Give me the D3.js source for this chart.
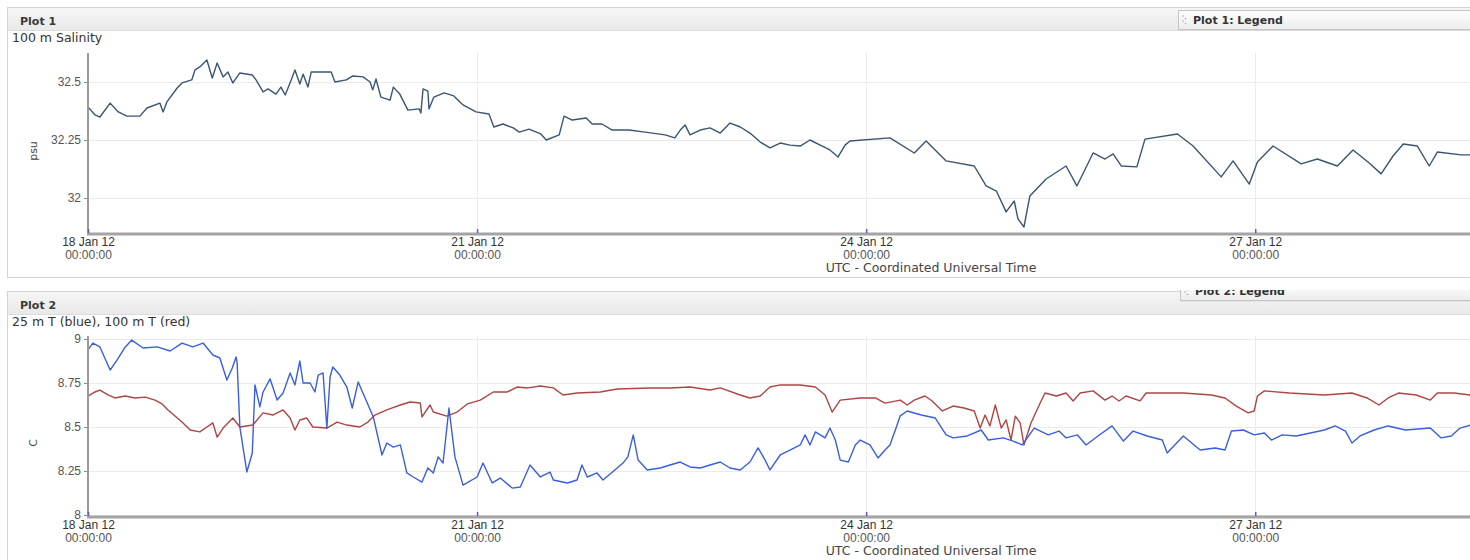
<!DOCTYPE html>
<html>
<head>
<meta charset="utf-8">
<script src="https://cdn.jsdelivr.net/npm/d3@7/dist/d3.min.js"></script>
<style>
  body { margin: 0; background: #fff; }
  svg { display: block; font-family: "DejaVu Sans", Verdana, sans-serif; }
</style>
</head>
<body>
<div id="chart"></div>
<script>
// hours since 18 Jan 2012 00:00 UTC
const salinityHours = [0,1.3,2.2,4.1,5.6,7.2,9.6,10.9,13.3,13.9,14.6,16.5,17.4,19.2,19.8,20.7,22.0,23.0,23.9,25.0,25.9,26.8,28.1,30.4,31.1,32.4,33.3,34.8,35.7,36.5,37.6,38.3,39.2,39.8,40.7,41.3,45.0,45.7,47.8,49.0,50.9,52.2,52.7,53.3,54.2,55.9,56.5,57.7,59.2,61.3,61.6,62.0,62.9,63.1,64.0,65.9,67.7,69.4,71.8,74.2,75.1,76.8,78.7,79.8,81.6,83.8,84.8,87.2,88.1,89.6,92.2,93.3,95.1,97.0,100.1,103.1,106.8,108.6,109.6,110.5,111.4,113.3,115.1,117.0,118.8,120.7,122.5,124.4,126.2,128.1,129.9,131.8,133.6,135.5,137.3,138.8,140.1,141.0,148.4,152.9,155.1,158.8,164.0,166.2,168.1,169.9,171.4,172.1,173.2,174.3,177.3,181.0,183.0,186.0,188.2,189.7,191.2,194.1,195.6,201.6,204.5,209.7,211.9,214.9,216.4,219.3,224.5,227.5,231.2,234.1,237.1,239.3,241.5,243.4,246.0,248.2,249.7,254.1,256.9];
const salinityValues = [32.392,32.358,32.349,32.409,32.371,32.353,32.353,32.388,32.409,32.371,32.414,32.474,32.496,32.509,32.552,32.565,32.595,32.517,32.582,32.522,32.543,32.496,32.539,32.530,32.509,32.457,32.470,32.448,32.478,32.444,32.509,32.552,32.491,32.534,32.478,32.543,32.543,32.500,32.509,32.526,32.522,32.500,32.466,32.513,32.435,32.422,32.478,32.448,32.379,32.384,32.366,32.470,32.461,32.384,32.435,32.453,32.440,32.401,32.371,32.362,32.306,32.319,32.302,32.284,32.297,32.276,32.250,32.272,32.353,32.336,32.345,32.319,32.319,32.293,32.293,32.284,32.272,32.259,32.293,32.315,32.272,32.293,32.302,32.280,32.323,32.306,32.280,32.241,32.216,32.237,32.228,32.224,32.250,32.228,32.207,32.177,32.228,32.246,32.259,32.194,32.246,32.160,32.138,32.052,32.030,31.940,31.987,31.910,31.875,32.009,32.082,32.138,32.052,32.194,32.168,32.190,32.138,32.134,32.254,32.276,32.224,32.091,32.160,32.060,32.155,32.224,32.147,32.168,32.138,32.207,32.151,32.104,32.181,32.233,32.224,32.138,32.198,32.186,32.186];

const blueHours = [0,0.9,2.2,4.1,5.4,6.9,8.1,10.2,12.8,15.2,17.4,19.4,21.3,23.1,24.4,25.7,26.7,27.4,27.6,28.1,29.4,30.4,30.9,31.8,32.4,33.7,35.0,36.1,37.4,38.3,39.2,39.8,41.1,42.0,42.6,43.5,44.2,44.8,45.3,46.6,47.9,48.9,50.0,51.6,52.8,54.4,55.3,56.5,57.8,59.0,60.2,61.8,62.9,63.9,64.8,65.7,66.8,67.9,69.4,72.0,73.1,74.8,76.3,78.5,80.0,81.8,83.7,85.5,86.1,88.7,90.5,91.4,92.4,94.2,95.3,97.5,99.0,99.9,100.9,101.8,103.5,105.9,107.7,109.6,111.4,113.3,115.1,117.0,118.8,120.7,122.5,124.0,125.3,126.2,128.1,129.9,131.8,132.7,133.6,134.6,136.4,137.3,138.3,139.2,140.7,142.0,142.9,144.7,146.2,147.5,148.4,149.4,150.3,151.6,154.2,156.8,158.8,160.1,162.7,165.3,166.6,169.4,171.2,172.9,175.1,177.7,179.7,181.0,183.1,184.7,186.9,189.5,191.6,193.4,196.0,198.8,199.7,202.7,205.8,208.6,210.4,211.6,213.8,215.8,217.7,219.0,221.0,223.6,226.2,228.8,230.8,232.7,233.9,235.4,238.0,240.6,243.8,248.4,250.4,252.3,253.9,255.8];
const blueValues = [8.938,8.977,8.955,8.824,8.881,8.955,8.994,8.949,8.955,8.932,8.977,8.955,8.977,8.909,8.892,8.767,8.835,8.898,8.864,8.500,8.244,8.352,8.739,8.614,8.699,8.773,8.653,8.693,8.807,8.739,8.875,8.750,8.750,8.699,8.795,8.807,8.494,8.784,8.841,8.795,8.727,8.608,8.756,8.642,8.557,8.341,8.409,8.386,8.398,8.239,8.216,8.187,8.267,8.239,8.330,8.295,8.608,8.330,8.170,8.216,8.295,8.182,8.210,8.153,8.159,8.284,8.216,8.244,8.199,8.182,8.199,8.284,8.216,8.239,8.199,8.256,8.295,8.330,8.455,8.312,8.256,8.267,8.284,8.301,8.273,8.267,8.284,8.301,8.267,8.256,8.301,8.381,8.312,8.256,8.341,8.369,8.398,8.455,8.398,8.472,8.438,8.494,8.426,8.312,8.301,8.398,8.426,8.398,8.324,8.369,8.398,8.483,8.563,8.591,8.568,8.551,8.455,8.438,8.449,8.483,8.426,8.438,8.420,8.398,8.494,8.455,8.477,8.438,8.455,8.398,8.449,8.506,8.420,8.477,8.449,8.426,8.352,8.449,8.369,8.381,8.369,8.477,8.483,8.455,8.466,8.426,8.455,8.449,8.466,8.483,8.506,8.477,8.409,8.449,8.483,8.506,8.483,8.494,8.438,8.449,8.494,8.511];

const redHours = [0,1.3,2.2,3.7,5.0,6.9,8.7,10.6,12.4,13.7,14.8,16.1,17.4,18.9,20.7,22.0,23.1,23.9,25.0,26.8,28.1,30.5,32.4,34.2,36.1,37.4,38.3,39.2,40.5,41.6,44.2,46.1,47.9,50.3,51.8,53.1,55.3,57.8,59.6,61.5,61.8,63.3,63.9,66.4,68.3,70.2,72.6,75.0,77.6,79.4,81.4,83.7,86.1,87.9,90.5,94.8,97.9,104.0,107.7,111.4,115.1,117.0,120.7,122.5,124.4,126.2,128.1,131.8,134.6,136.4,137.7,139.2,142.9,145.7,147.5,150.3,151.6,152.9,154.9,156.2,158.1,160.1,162.1,164.0,165.1,166.0,166.9,167.9,169.0,169.9,170.8,171.6,172.5,173.2,174.5,176.2,177.1,179.2,181.0,182.3,183.6,186.0,188.2,189.5,190.8,192.1,194.7,195.8,202.7,207.9,210.4,212.5,214.7,215.8,216.4,217.7,222.3,228.8,233.9,236.7,238.9,240.6,242.5,245.8,248.4,249.7,252.8,255.8];
const redValues = [8.676,8.699,8.710,8.682,8.665,8.676,8.665,8.670,8.653,8.631,8.597,8.562,8.528,8.483,8.472,8.500,8.523,8.443,8.494,8.551,8.500,8.511,8.580,8.568,8.597,8.551,8.483,8.540,8.551,8.500,8.494,8.528,8.511,8.500,8.528,8.568,8.597,8.625,8.642,8.636,8.557,8.625,8.585,8.562,8.585,8.631,8.653,8.699,8.699,8.727,8.722,8.733,8.722,8.682,8.693,8.699,8.716,8.722,8.722,8.727,8.710,8.722,8.682,8.665,8.676,8.727,8.739,8.739,8.727,8.682,8.585,8.653,8.665,8.665,8.636,8.653,8.625,8.653,8.676,8.648,8.591,8.619,8.608,8.591,8.494,8.568,8.506,8.625,8.494,8.540,8.426,8.562,8.523,8.398,8.523,8.636,8.693,8.676,8.693,8.648,8.693,8.705,8.653,8.676,8.648,8.676,8.648,8.693,8.693,8.682,8.665,8.619,8.580,8.591,8.676,8.705,8.693,8.682,8.693,8.665,8.625,8.665,8.693,8.682,8.653,8.693,8.693,8.682];

const xTickDays = ["2012-01-18", "2012-01-21", "2012-01-24", "2012-01-27"];
const salinityTicks = [32, 32.25, 32.5];
const tempTicks = [8, 8.25, 8.5, 8.75, 9];

const width = 1470;
const height = 560;
const t0 = Date.UTC(2012, 0, 18);

const svg = d3.select("#chart")
  .append("svg")
  .attr("width", width)
  .attr("height", height);

const defs = svg.append("defs");
const headGrad = defs.append("linearGradient").attr("id", "headGrad").attr("x1", 0).attr("x2", 0).attr("y1", 0).attr("y2", 1);
headGrad.append("stop").attr("offset", "0%").attr("stop-color", "#f6f6f6");
headGrad.append("stop").attr("offset", "100%").attr("stop-color", "#e9e9e9");
const legGrad = defs.append("linearGradient").attr("id", "legGrad").attr("x1", 0).attr("x2", 0).attr("y1", 0).attr("y2", 1);
legGrad.append("stop").attr("offset", "0%").attr("stop-color", "#ffffff");
legGrad.append("stop").attr("offset", "100%").attr("stop-color", "#ececec");

// plot area runs past the right edge of the window, like the original page
const x = d3.scaleUtc()
  .domain([new Date(t0), new Date(Date.UTC(2012, 0, 31))])
  .range([88, 1774]);

const xTicks = xTickDays.map(d => new Date(d + "T00:00:00Z"));
const fmtDate = d3.utcFormat("%d %b %y");
const fmtTime = d3.utcFormat("%H:%M:%S");

function toSeries(hours, values) {
  return d3.zip(hours, values).map(([h, v]) => ({ t: new Date(t0 + h * 3600e3), v }));
}

function drawPanel(p) {
  const g = svg.append("g");

  g.append("rect")
    .attr("x", 7.5).attr("y", p.top + 0.5)
    .attr("width", 1520).attr("height", p.bottom - p.top)
    .attr("fill", "#fff").attr("stroke", "#d2d2d2");

  g.append("rect")
    .attr("x", 8).attr("y", p.top + 1)
    .attr("width", 1520).attr("height", 22)
    .attr("fill", "url(#headGrad)");
  g.append("line")
    .attr("x1", 8).attr("x2", 1528)
    .attr("y1", p.top + 23.5).attr("y2", p.top + 23.5)
    .attr("stroke", "#dcdcdc");

  g.append("text")
    .attr("x", 20).attr("y", p.top + 18)
    .attr("font-size", 11).attr("font-weight", "bold")
    .attr("fill", "#3a3a3a")
    .text(p.title);

  g.append("text")
    .attr("x", 12).attr("y", p.top + 35)
    .attr("font-size", 12.5).attr("fill", "#333")
    .text(p.subtitle);

  const y = d3.scaleLinear().domain(p.yDomain).range(p.yRange);

  // grid
  g.append("g").selectAll("line")
    .data(p.yTicks)
    .enter()
    .append("line")
    .attr("x1", 88).attr("x2", 1774)
    .attr("y1", d => Math.round(y(d)) + 0.5).attr("y2", d => Math.round(y(d)) + 0.5)
    .attr("stroke", "#ebebeb");

  g.append("g").selectAll("line")
    .data(xTicks)
    .enter()
    .append("line")
    .attr("x1", d => Math.round(x(d)) + 0.5).attr("x2", d => Math.round(x(d)) + 0.5)
    .attr("y1", p.plotTop).attr("y2", p.plotBottom)
    .attr("stroke", "#ebebeb");

  const clipId = "clip" + p.title.replace(/\s/g, "");
  defs.append("clipPath").attr("id", clipId)
    .append("rect")
    .attr("x", 88).attr("y", p.plotTop)
    .attr("width", 1774 - 88).attr("height", p.plotBottom - p.plotTop);

  const line = d3.line()
    .x(d => x(d.t))
    .y(d => y(d.v));

  g.append("g").attr("clip-path", `url(#${clipId})`)
    .selectAll("path")
    .data(p.series)
    .enter()
    .append("path")
    .attr("d", d => line(d.points))
    .attr("fill", "none")
    .attr("stroke", d => d.color)
    .attr("stroke-width", 1.4)
    .attr("stroke-linejoin", "round");

  // axes
  const yAxis = g.append("g")
    .attr("transform", "translate(88,0)")
    .call(d3.axisLeft(y).tickValues(p.yTicks).tickSize(4).tickPadding(3).tickFormat(d3.format("~g")));
  yAxis.select(".domain").remove();
  yAxis.selectAll("line").attr("stroke", "#888");
  yAxis.selectAll("text").attr("font-size", 12).attr("fill", "#555").attr("font-family", null);

  g.append("line")
    .attr("x1", 88).attr("x2", 88)
    .attr("y1", p.plotTop).attr("y2", p.plotBottom + 1)
    .attr("stroke", "#9a9a9a").attr("stroke-width", 2);

  g.append("line")
    .attr("x1", 87).attr("x2", 1774)
    .attr("y1", p.plotBottom + 1).attr("y2", p.plotBottom + 1)
    .attr("stroke", "#a4a4a4").attr("stroke-width", 3);

  const xAxis = g.append("g")
    .attr("transform", `translate(0,${p.plotBottom})`)
    .call(d3.axisBottom(x).tickValues(xTicks).tickSize(0).tickPadding(0));
  xAxis.select(".domain").remove();
  xAxis.selectAll(".tick line").remove();
  xAxis.selectAll(".tick")
    .append("line")
    .attr("y1", -4).attr("y2", 0)
    .attr("stroke", "#5a5ad8").attr("stroke-width", 1.5);
  xAxis.selectAll(".tick text").each(function(d) {
    const t = d3.select(this).text(null).attr("dy", null).attr("y", 0)
      .attr("font-family", null).attr("font-size", 12).attr("fill", "#333");
    t.append("tspan").attr("x", 0).attr("y", 13).text(fmtDate(d));
    t.append("tspan").attr("x", 0).attr("y", 26).attr("fill", "#555").text(fmtTime(d));
  });

  g.append("text")
    .attr("x", (88 + 1774) / 2).attr("y", p.plotBottom + 39)
    .attr("text-anchor", "middle")
    .attr("font-size", 12.5).attr("fill", "#444")
    .text("UTC - Coordinated Universal Time");

  g.append("text")
    .attr("transform", `translate(37,${p.unitY}) rotate(-90)`)
    .attr("text-anchor", "middle")
    .attr("font-size", 11).attr("fill", "#444")
    .text(p.unit);

  // legend tab
  const leg = g.append("g");
  if (p.legendClip) {
    defs.append("clipPath").attr("id", clipId + "leg")
      .append("rect").attr("x", 1170).attr("y", p.legendClip).attr("width", 320).attr("height", 30);
    leg.attr("clip-path", `url(#${clipId}leg)`);
  }
  leg.append("rect")
    .attr("x", p.legendX + 1).attr("y", p.legendY + 1.5)
    .attr("width", 320).attr("height", 19)
    .attr("fill", "#d8d8d8");
  leg.append("rect")
    .attr("x", p.legendX + 0.5).attr("y", p.legendY + 0.5)
    .attr("width", 320).attr("height", 19)
    .attr("fill", "url(#legGrad)").attr("stroke", "#c4c4c4");
  leg.append("g").selectAll("circle")
    .data([0, 1, 2, 3])
    .enter()
    .append("circle")
    .attr("cx", (d, i) => p.legendX + 5 + (i % 2) * 2.5)
    .attr("cy", (d, i) => p.legendY + 6 + i * 2.5)
    .attr("r", 0.8)
    .attr("fill", "#aaa");
  leg.append("text")
    .attr("x", p.legendX + 15).attr("y", p.legendY + 14)
    .attr("font-size", 11).attr("font-weight", "bold")
    .attr("fill", "#333")
    .text(p.title + ": Legend");
}

drawPanel({
  title: "Plot 1",
  subtitle: "100 m Salinity",
  unit: "psu",
  unitY: 151,
  top: 7, bottom: 277,
  plotTop: 53, plotBottom: 233,
  yDomain: [32, 32.5], yRange: [198, 82],
  yTicks: salinityTicks,
  legendX: 1178, legendY: 10,
  series: [{ color: "#3b5570", points: toSeries(salinityHours, salinityValues) }]
});

drawPanel({
  title: "Plot 2",
  subtitle: "25 m T (blue), 100 m T (red)",
  unit: "C",
  unitY: 443,
  top: 291, bottom: 600,
  plotTop: 336, plotBottom: 516,
  yDomain: [8, 9], yRange: [515, 339],
  yTicks: tempTicks,
  legendX: 1180, legendY: 281, legendClip: 290,
  series: [
    { color: "#b04444", points: toSeries(redHours, redValues) },
    { color: "#3a5ede", points: toSeries(blueHours, blueValues) }
  ]
});
</script>
</body>
</html>
